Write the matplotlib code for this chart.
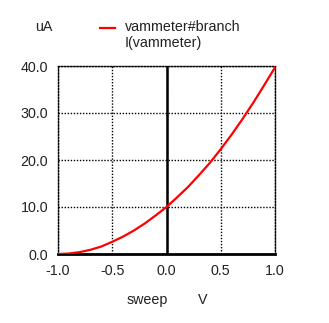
import numpy as np
import matplotlib
matplotlib.use('Agg')
import matplotlib.pyplot as plt

# sweep voltage (V) and current through vammeter (uA)
sweep = [-1.0, -0.9, -0.8, -0.7, -0.6, -0.5, -0.4, -0.3, -0.2, -0.1, 0.0,
         0.1, 0.2, 0.3, 0.4, 0.5, 0.6, 0.7, 0.8, 0.9, 1.0]
i_vam = [0.0, 0.1, 0.4, 0.9, 1.6, 2.6, 3.7, 5.0, 6.5, 8.2, 10.0,
         12.1, 14.3, 16.8, 19.4, 22.3, 25.4, 28.7, 32.2, 35.9, 39.7]

xticks = [-1.0, -0.5, 0.0, 0.5, 1.0]
yticks = [0.0, 10.0, 20.0, 30.0, 40.0]

plt.rcParams['font.family'] = ['Liberation Sans', 'DejaVu Sans']
fs = 10.3

fig = plt.figure(figsize=(3.29, 3.23), dpi=100)
ax = fig.add_axes([58/329, 1-254/323, 217/329, 188/323])

ax.plot(sweep, i_vam, color='red', lw=1.6, zorder=3)
ax.set_xlim(-1, 1)
ax.set_ylim(0, 40)

ax.set_xticks(xticks)
ax.set_yticks(yticks)
ax.set_xticklabels(['%.1f' % t for t in xticks], fontsize=fs, color='#222222')
ax.set_yticklabels(['%.1f' % t for t in yticks], fontsize=fs, color='#222222')
ax.tick_params(length=0, pad=7)

dots = (0, (1, 1.2))
ax.grid(True, color='black', ls=dots, lw=1)
for s in ['top', 'right', 'left']:
    ax.spines[s].set_linestyle(dots)
    ax.spines[s].set_linewidth(1)
ax.spines['bottom'].set_linewidth(2)
ax.axvline(0, color='black', lw=1.8, zorder=2)

fig.text(35/329, 1-27/323, 'uA', fontsize=fs, va='center', color='#222222')
fig.lines.append(plt.Line2D([100/329, 115/329], [1-28/323, 1-28/323],
                            color='red', lw=1.6, transform=fig.transFigure))
fig.text(125/329, 1-27/323, 'vammeter#branch', fontsize=fs, va='center', color='#222222')
fig.text(125/329, 1-43/323, 'I(vammeter)', fontsize=fs, va='center', color='#222222')
fig.text(127/329, 1-300/323, 'sweep', fontsize=fs, va='center', color='#222222')
fig.text(198/329, 1-300/323, 'V', fontsize=fs, va='center', color='#222222')

plt.savefig('out.png', dpi=100)
